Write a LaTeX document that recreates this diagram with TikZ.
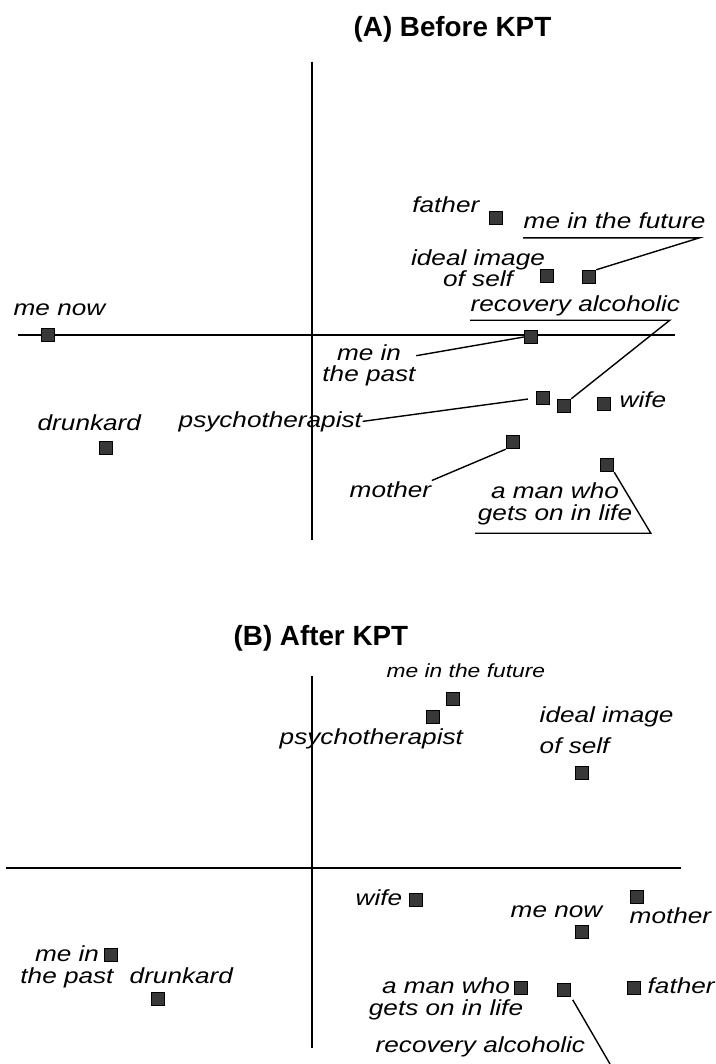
\documentclass[tikz,border=0pt]{standalone}
\usepackage{fontspec}
\setmainfont{Liberation Sans}
\newfontfamily\lblfont[FakeStretch=1.2]{Liberation Sans}
\usepackage{tikz}
\usetikzlibrary{arrows.meta, positioning}

\begin{document}
\begin{tikzpicture}[
      x=0.01cm, y=-0.01cm,
      sq/.style={draw=black, fill=black!78, minimum size=0.13cm, inner sep=0pt},
      lbl/.style={font=\lblfont\itshape\fontsize{6.2}{6.2}\selectfont, inner sep=0pt},
      small/.style={font=\lblfont\itshape\fontsize{5.4}{5.4}\selectfont, inner sep=0pt},
      ttl/.style={font=\bfseries\fontsize{7.9}{9}\selectfont, inner sep=0pt},
      axis/.style={line width=0.6pt},
      leader/.style={line width=0.4pt}
    ]

    \useasboundingbox (0,0) rectangle (715,1064);

    % (A) Before KPT
    \node[ttl, anchor=base west] (ttla) at (353, 37) {(A) Before KPT};

    \coordinate (ya-top) at (312, 62);
    \coordinate (ya-bot) at (312, 540);
    \coordinate (xa-l) at (18, 335);
    \coordinate (xa-r) at (675, 335);
    \draw[axis] (ya-top) -- (ya-bot);
    \draw[axis] (xa-l) -- (xa-r);

    \node[sq] (fat-a) at (496, 218) {};
    \node[sq] (fut-a) at (589, 277) {};
    \node[sq] (ide-a) at (547, 276) {};
    \node[sq] (now-a) at (48, 335) {};
    \node[sq] (past-a) at (531, 337) {};
    \node[sq] (psy-a) at (543, 398) {};
    \node[sq] (rec-a) at (564, 406) {};
    \node[sq] (wif-a) at (604, 404) {};
    \node[sq] (dru-a) at (106, 448) {};
    \node[sq] (mot-a) at (513, 442) {};
    \node[sq] (man-a) at (607, 465) {};

    \node[lbl, anchor=base east] (fat-a-l) at (480, 213) {father};
    \node[lbl, anchor=base west] (fut-a-l) at (523, 229) {me in the future};
    \node[lbl, anchor=base, align=center] (ide-a-l) at (478, 287) {ideal image\\of self};
    \node[lbl, anchor=base west] (rec-a-l) at (470, 312) {recovery alcoholic};
    \node[lbl, anchor=base west] (now-a-l) at (13, 316) {me now};
    \node[lbl, anchor=base, align=center] (past-a-l) at (369, 382) {me in\\the past};
    \node[lbl, anchor=base west] (psy-a-l) at (178, 427) {psychotherapist};
    \node[lbl, anchor=base west] (wif-a-l) at (619, 407) {wife};
    \node[lbl, anchor=base west] (dru-a-l) at (37, 430) {drunkard};
    \node[lbl, anchor=base west] (mot-a-l) at (349, 497) {mother};
    \node[lbl, anchor=base, align=center] (man-a-l) at (555, 520) {a man who\\gets on in life};

    % Leaders
    \draw[leader] ([yshift=-0.08cm]fut-a-l.south west) -- ([xshift=-0.07cm, yshift=-0.08cm]fut-a-l.south east) -- (fut-a.north east);
    \draw[leader] ([yshift=-0.03cm]rec-a-l.south west) -- ([xshift=-0.11cm, yshift=-0.03cm]rec-a-l.south east) -- (rec-a.north east);
    \draw[leader] ([yshift=-0.12cm]past-a-l.north east) -- (past-a.west);
    \draw[leader, shorten >=0.08cm] (psy-a-l.east) -- (psy-a.west);
    \draw[leader] (mot-a-l.north east) -- (mot-a.south west);
    \draw[leader] ([xshift=-0.02cm, yshift=-0.08cm]man-a-l.south west) -- ([xshift=0.18cm, yshift=-0.08cm]man-a-l.south east) -- (man-a.south east);

    % (B) After KPT
    \node[ttl, anchor=base west] (ttlb) at (233, 645) {(B) After KPT};

    \coordinate (yb-top) at (312, 676);
    \coordinate (yb-bot) at (312, 1048);
    \coordinate (xb-l) at (6, 868);
    \coordinate (xb-r) at (681, 868);
    \draw[axis] (yb-top) -- (yb-bot);
    \draw[axis] (xb-l) -- (xb-r);

    \node[sq] (fut-b) at (453, 699) {};
    \node[sq] (psy-b) at (433, 717) {};
    \node[sq] (ide-b) at (582, 773) {};
    \node[sq] (wif-b) at (416, 900) {};
    \node[sq] (mot-b) at (637, 897) {};
    \node[sq] (now-b) at (582, 932) {};
    \node[sq] (past-b) at (111, 955) {};
    \node[sq] (dru-b) at (158, 999) {};
    \node[sq] (man-b) at (521, 988) {};
    \node[sq] (rec-b) at (564, 990) {};
    \node[sq] (fat-b) at (634, 988) {};

    \node[small, anchor=base west] (fut-b-l) at (386, 677) {me in the future};
    \node[lbl, anchor=base west] (psy-b-l) at (279, 744) {psychotherapist};
    \node[lbl, anchor=base west, align=left] (ide-b-l) at (539, 753) {ideal image\\[2.6pt]of self};
    \node[lbl, anchor=base west] (wif-b-l) at (355, 905) {wife};
    \node[lbl, anchor=base west] (now-b-l) at (510, 917) {me now};
    \node[lbl, anchor=base west] (mot-b-l) at (629, 923) {mother};
    \node[lbl, anchor=base, align=center] (past-b-l) at (67, 983) {me in\\the past};
    \node[lbl, anchor=base west] (dru-b-l) at (129, 983) {drunkard};
    \node[lbl, anchor=base, align=center] (man-b-l) at (446, 1015) {a man who\\gets on in life};
    \node[lbl, anchor=base west] (fat-b-l) at (647, 993) {father};
    \node[lbl, anchor=base west] (rec-b-l) at (375, 1052) {recovery alcoholic};

    \coordinate (rec-b-end) at (610, 1064);
    \draw[leader, shorten <=0.03cm] (rec-b.south east) -- (rec-b-end);

  \end{tikzpicture}
\end{document}
